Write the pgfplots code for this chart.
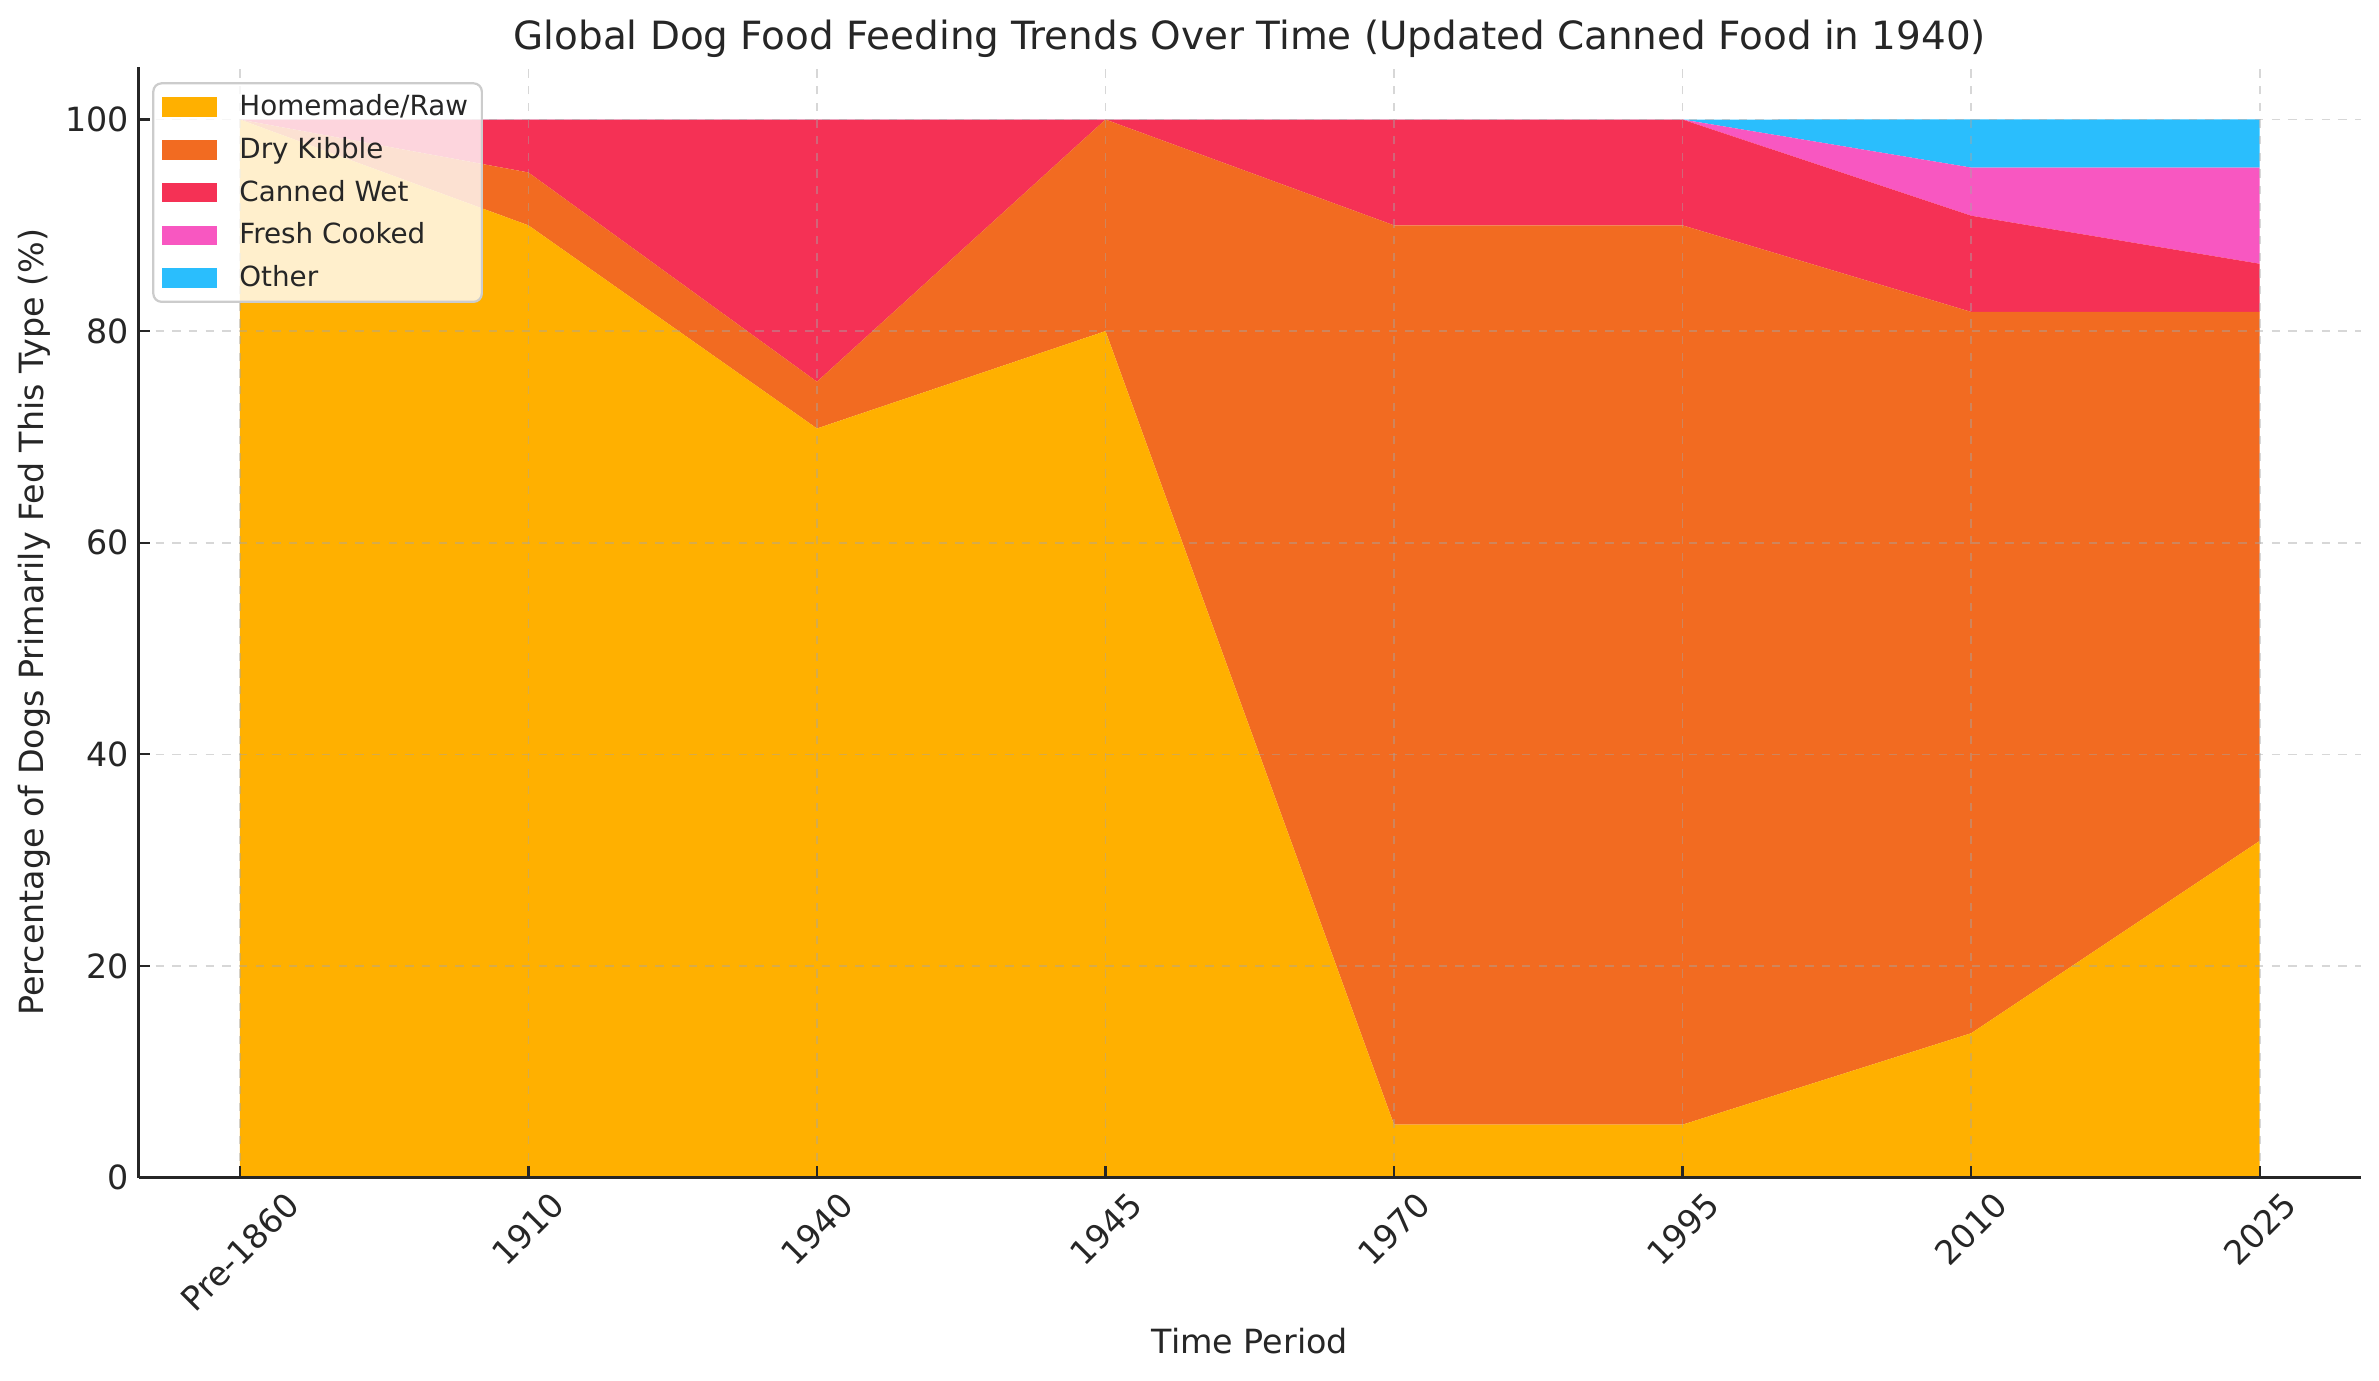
\documentclass[border=0pt]{standalone}
\usepackage{fontspec}
\setmainfont{DejaVu Sans}
\usepackage{graphicx}
\usepackage{pgfplots}
\pgfplotsset{compat=1.18}
\definecolor{chome}{HTML}{FFB000}
\definecolor{cdry}{HTML}{F26B21}
\definecolor{ccan}{HTML}{F53155}
\definecolor{cfresh}{HTML}{F857C1}
\definecolor{cother}{HTML}{2ABEFD}
\definecolor{txt}{HTML}{262626}
\begin{document}
\begin{tikzpicture}
\begin{axis}[
  scale only axis, width=800pt, height=400pt,
  xmin=-0.35, xmax=7.35, ymin=0, ymax=105,
  stack plots=y,
  xtick={0,1,2,3,4,5,6,7},
  xticklabels={{\rotatebox{45}{Pre-1860}},{\rotatebox{45}{1910}},{\rotatebox{45}{1940}},{\rotatebox{45}{1945}},{\rotatebox{45}{1970}},{\rotatebox{45}{1995}},{\rotatebox{45}{2010}},{\rotatebox{45}{2025}}},
  x tick label style={anchor=north, font=\fontsize{12}{14}\selectfont, text=txt, yshift=-1pt},
  ytick={0,20,40,60,80,100},
  y tick label style={font=\fontsize{12}{14}\selectfont, text=txt},
  /pgf/number format/assume math mode=true,
  axis x line*=bottom, axis y line*=left,
  axis line style={line width=1pt, color=txt, -},
  tick align=inside, major tick length=4pt,
  tick style={color=txt, line width=0.8pt},
  grid=major, grid style={dashed, color=gray!70, opacity=0.45, line width=0.6pt},
  axis on top,
  title={Global Dog Food Feeding Trends Over Time (Updated Canned Food in 1940)},
  title style={at={(axis description cs:0.5,1.01)}, anchor=center, font=\fontsize{14}{16}\selectfont, text=txt},
  xlabel={Time Period},
  xlabel style={at={(axis description cs:0.5,-0.1475)}, anchor=center, font=\fontsize{12}{14}\selectfont, text=txt},
  ylabel={Percentage of Dogs Primarily Fed This Type (\%)},
  ylabel style={at={(axis description cs:-0.047,0.5)}, anchor=center, font=\fontsize{12}{14}\selectfont, text=txt},
  legend cell align=left,
  legend image code/.code={\path[#1, draw=none, fill opacity=1, sharp corners] (0pt,-3.5pt) rectangle (20pt,3.5pt);},
  legend style={at={(axis description cs:0.006,0.986)}, anchor=north west,
    draw=black!20, line width=0.8pt, rounded corners=3pt, fill=white, fill opacity=0.8, text opacity=1,
    font=\fontsize{10}{12}\selectfont, text=txt, inner xsep=3pt, inner ysep=2pt, row sep=2.3pt,
    /tikz/every odd column/.append style={column sep=6pt}},
]
\addplot[fill=chome, draw=none] coordinates {(0,100)(1,90)(2,70.80)(3,80)(4,5)(5,5)(6,13.64)(7,31.82)} \closedcycle;
\addlegendentry{Homemade/Raw}
\addplot[fill=cdry, draw=none] coordinates {(0,0)(1,5)(2,4.42)(3,20)(4,85)(5,85)(6,68.18)(7,50)} \closedcycle;
\addlegendentry{Dry Kibble}
\addplot[fill=ccan, draw=none] coordinates {(0,0)(1,5)(2,24.78)(3,0)(4,10)(5,10)(6,9.09)(7,4.55)} \closedcycle;
\addlegendentry{Canned Wet}
\addplot[fill=cfresh, draw=none] coordinates {(0,0)(1,0)(2,0)(3,0)(4,0)(5,0)(6,4.55)(7,9.09)} \closedcycle;
\addlegendentry{Fresh Cooked}
\addplot[fill=cother, draw=none] coordinates {(0,0)(1,0)(2,0)(3,0)(4,0)(5,0)(6,4.55)(7,4.55)} \closedcycle;
\addlegendentry{Other}
\end{axis}
\path ([shift={(-50pt,-73pt)}]current axis.south west) rectangle ([shift={(6.6pt,24pt)}]current axis.north east);
\end{tikzpicture}
\end{document}
